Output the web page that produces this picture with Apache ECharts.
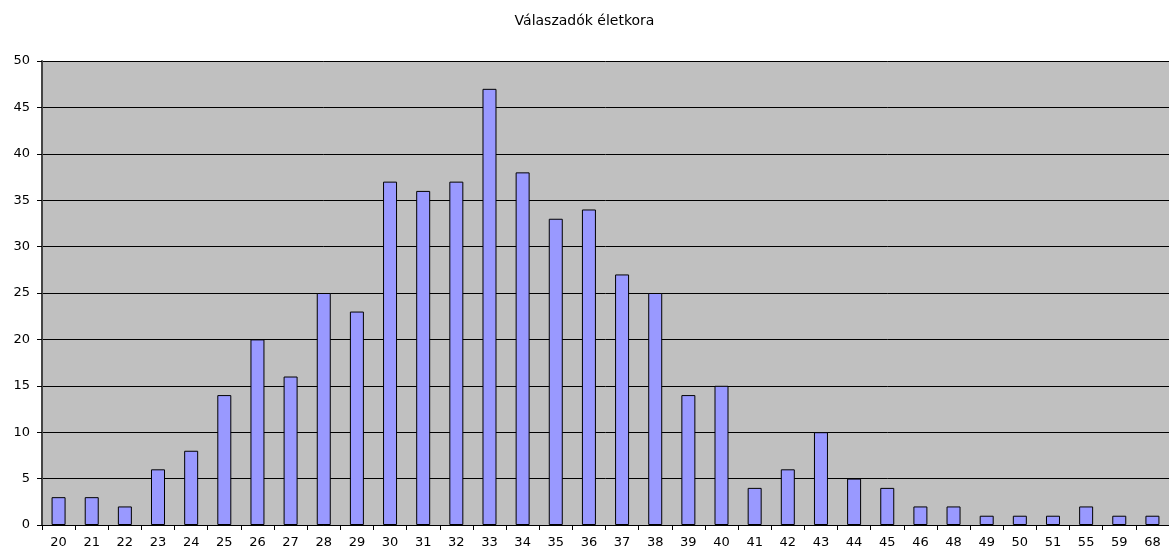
<!DOCTYPE html>
<html>
<head>
<meta charset="utf-8">
<script src="https://cdn.jsdelivr.net/npm/echarts@6/dist/echarts.min.js"></script>
<style>
  html, body { margin: 0; padding: 0; background: #fff; }
  #chart { width: 1169px; height: 549px; }
</style>
</head>
<body>
<div id="chart"></div>
<script>
var ages = ['20', '21', '22', '23', '24', '25', '26', '27', '28', '29', '30', '31', '32', '33', '34', '35', '36',
	'37', '38', '39', '40', '41', '42', '43', '44', '45', '46', '48', '49', '50', '51', '55', '59', '68'];
var counts = [3, 3, 2, 6, 8, 14, 20, 16, 25, 23, 37, 36, 37, 47, 38, 33, 34,
	27, 25, 14, 15, 4, 6, 10, 5, 4, 2, 2, 1, 1, 1, 2, 1, 1];
var yTicks = [0, 5, 10, 15, 20, 25, 30, 35, 40, 45, 50];

var myChart = echarts.init(document.getElementById('chart'));
var option = {
	animation : false,
	title : {
		text : 'Válaszadók életkora',
		left : 'center',
		top : 9,
		textStyle : {
			fontFamily : 'DejaVu Sans',
			fontSize : 14,
			fontWeight : 'normal',
			color : '#000'
		}
	},
	grid : {
		left : 42,
		right : -9,
		top : 61,
		bottom : 24,
		show : true,
		backgroundColor : '#C0C0C0',
		borderWidth : 0
	},
	xAxis : {
		type : 'category',
		data : ages,
		axisLine : { lineStyle : { color : '#000', width : 1 } },
		axisTick : { show : true, length : 5, lineStyle : { color : '#000' } },
		axisLabel : {
			color : '#000',
			fontFamily : 'DejaVu Sans',
			fontSize : 13,
			margin : 11,
			interval : 0
		}
	},
	yAxis : {
		type : 'value',
		min : yTicks[0],
		max : yTicks[yTicks.length - 1],
		interval : 5,
		axisLine : { show : true, lineStyle : { color : '#444', width : 2 } },
		axisTick : { show : true, length : 5, lineStyle : { color : '#000' } },
		axisLabel : {
			color : '#000',
			fontFamily : 'DejaVu Sans',
			fontSize : 13,
			margin : 12
		},
		splitLine : { show : true, lineStyle : { color : '#000', width : 1 } }
	},
	series : [{
		type : 'bar',
		data : counts,
		barWidth : 14,
		itemStyle : {
			color : '#9999FF',
			borderColor : '#000',
			borderWidth : 1
		}
	}]
};
myChart.setOption(option);
</script>
</body>
</html>
